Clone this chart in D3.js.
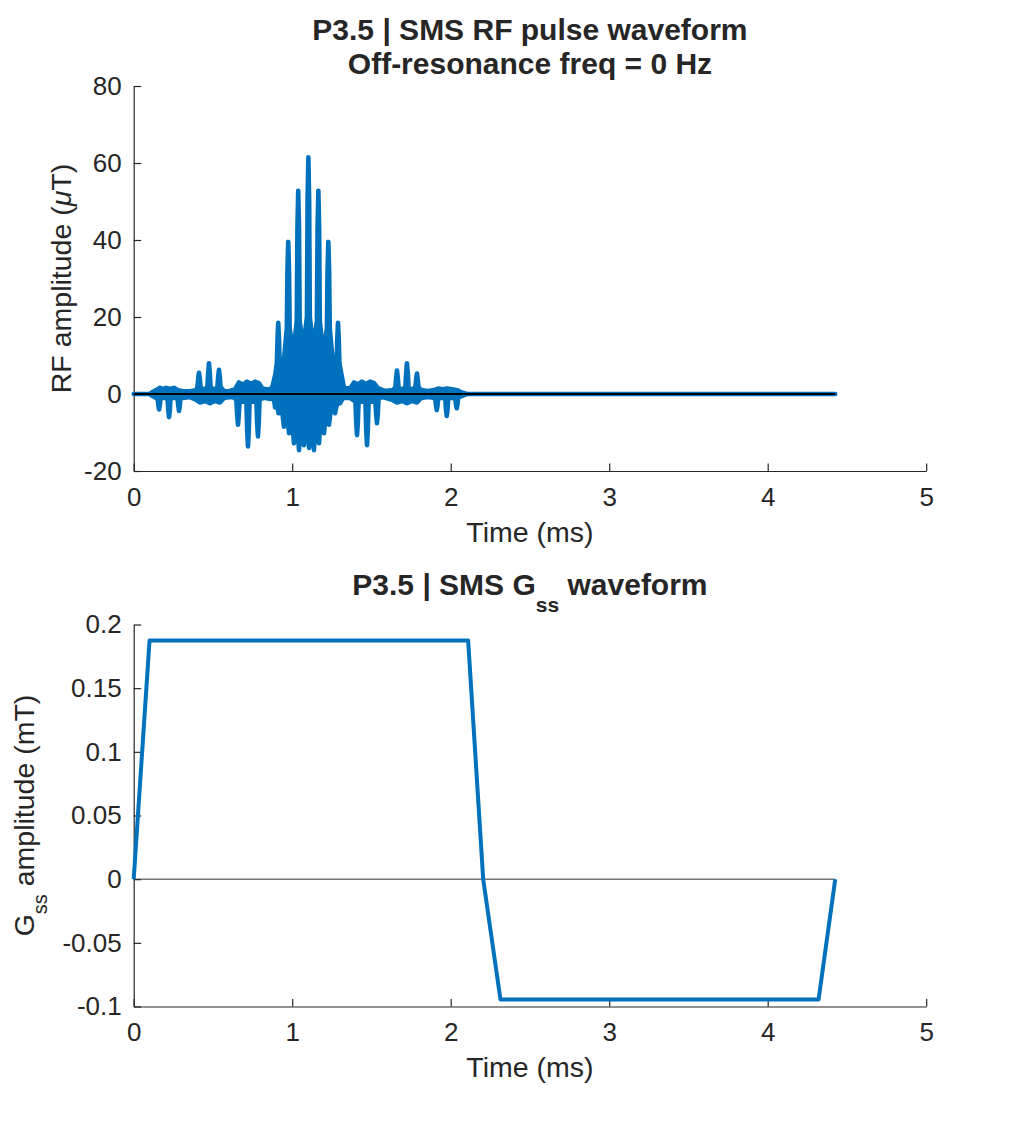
<!DOCTYPE html>
<html>
<head>
<meta charset="utf-8">
<title>P3.5 SMS RF pulse</title>
<script src="https://d3js.org/d3.v7.min.js"></script>
<style>
body{margin:0;background:#fff;}
text{font-family:"Liberation Sans",Arial,Helvetica,sans-serif;fill:#262626;}
</style>
</head>
<body>
<div id="chart"></div>
<script>
"use strict";
// tick values and their labels
var timeTicks=[0,1,2,3,4,5];
var timeTickLabels=['0','1','2','3','4','5'];
var rfTicks=[-20,0,20,40,60,80];
var rfTickLabels=['-20','0','20','40','60','80'];
var gTicks=[-0.1,-0.05,0,0.05,0.1,0.15,0.2];
var gTickLabels=['-0.1','-0.05','0','0.05','0.1','0.15','0.2'];

// RF trace, upper edge [ms, uT]
var rfUpper=[[0,0],[0.100,0],[0.122,0.6],[0.141,1.0],[0.166,1.6],[0.185,1.2],[0.204,1.6],[0.229,1.3],[0.254,1.6],[0.279,1.0],
    [0.311,0.7],[0.355,0.7],
    [0.395,1.0],[0.402,1.8],[0.407,4.0],[0.412,5.5],[0.417,4.0],[0.422,1.8],[0.440,1.0],
    [0.465,1.8],[0.470,5.5],[0.475,8.0],[0.480,5.5],[0.485,1.8],[0.510,1.0],
    [0.528,1.8],[0.533,4.5],[0.538,6.3],[0.543,4.5],[0.548,1.8],[0.570,0.8],
    [0.601,0.7],[0.639,1.2],[0.664,3.0],[0.690,2.4],[0.715,3.2],[0.740,2.6],[0.765,3.2],[0.790,2.8],[0.809,1.5],[0.841,1.2],
    [0.873,1.5],[0.893,5.0],[0.903,8.0],[0.908,15.0],[0.912,18.5],[0.916,15.0],[0.921,8.0],
    [0.944,7.0],[0.966,17.0],[0.970,32.0],[0.975,39.5],[0.980,32.0],[0.984,17.0],
    [1.007,10.5],[1.029,19.0],[1.033,43.0],[1.038,52.8],[1.043,43.0],[1.047,19.0],
    [1.070,12.0],[1.093,20.0],[1.097,50.0],[1.102,61.5],[1.107,50.0],[1.111,20.0],
    [1.133,12.0],[1.156,19.0],[1.160,43.0],[1.165,52.8],[1.170,43.0],[1.174,19.0],
    [1.196,10.5],[1.219,17.0],[1.223,32.0],[1.228,39.5],[1.233,32.0],[1.237,17.0],
    [1.259,7.0],[1.280,8.0],[1.285,15.0],[1.289,18.5],[1.293,15.0],[1.298,8.0],[1.311,5.0],[1.327,1.5],
    [1.365,1.5],[1.390,3.0],[1.415,2.5],[1.440,3.2],[1.466,2.6],[1.491,3.2],[1.516,2.8],[1.541,1.5],[1.585,0.8],
    [1.636,1.0],[1.651,1.8],[1.656,4.3],[1.661,6.1],[1.666,4.3],[1.671,1.8],[1.686,1.0],
    [1.714,1.8],[1.719,5.5],[1.724,8.0],[1.729,5.5],[1.734,1.8],[1.749,1.0],
    [1.777,1.8],[1.782,3.8],[1.787,5.3],[1.792,3.8],[1.797,1.8],[1.813,1.0],
    [1.857,0.8],[1.895,1.0],[1.920,1.4],[1.951,1.2],[1.977,1.4],[2.008,1.2],[2.040,1.0],[2.071,0.4],[2.103,0],[4.426,0]];

// RF trace, lower edge
var rfLower=[[0,0],[0.100,0],[0.122,-0.6],[0.141,-1.0],
    [0.151,-1.2],[0.155,-2.8],[0.160,-4.0],[0.165,-2.8],[0.169,-1.2],[0.190,-1.0],
    [0.214,-1.2],[0.218,-4.2],[0.223,-6.0],[0.228,-4.2],[0.232,-1.2],[0.255,-1.0],
    [0.277,-1.2],[0.281,-3.0],[0.286,-4.4],[0.291,-3.0],[0.295,-1.2],[0.310,-1.0],
    [0.355,-0.8],[0.393,-1.5],[0.418,-2.2],[0.450,-1.8],[0.481,-2.4],[0.513,-1.8],[0.544,-2.2],[0.570,-1.0],[0.608,-0.8],
    [0.639,-1.0],[0.648,-1.8],[0.653,-5.5],[0.658,-8.0],[0.663,-5.5],[0.668,-2.0],
    [0.711,-2.0],[0.716,-9.5],[0.721,-13.6],[0.726,-9.5],[0.731,-2.0],
    [0.774,-2.0],[0.779,-7.5],[0.784,-11.0],[0.789,-7.5],[0.794,-1.5],
    [0.820,-1.0],[0.866,-1.3],[0.885,-1.3],[0.892,-3.5],[0.899,-1.5],
    [0.914,-5.0],[0.930,-2.0],[0.948,-8.5],[0.964,-2.5],[0.980,-10.2],[0.994,-3.0],[1.011,-12.8],[1.026,-3.5],[1.043,-14.6],[1.057,-4.0],
    [1.074,-13.3],[1.089,-4.0],[1.106,-14.0],[1.120,-4.0],[1.137,-14.6],[1.152,-4.0],[1.169,-12.8],[1.184,-3.5],[1.201,-10.2],[1.215,-3.0],
    [1.232,-8.0],[1.248,-2.5],[1.270,-5.0],[1.286,-2.0],[1.302,-2.4],[1.321,-1.0],[1.365,-1.0],
    [1.399,-2.0],[1.404,-7.5],[1.409,-10.7],[1.414,-7.5],[1.419,-2.0],
    [1.462,-2.0],[1.467,-9.3],[1.472,-13.3],[1.477,-9.3],[1.482,-2.0],
    [1.525,-2.0],[1.530,-5.2],[1.535,-7.6],[1.540,-5.2],[1.545,-1.2],
    [1.570,-0.8],[1.630,-1.5],[1.661,-2.2],[1.693,-1.8],[1.724,-2.4],[1.756,-1.8],[1.787,-2.2],[1.813,-1.0],[1.857,-0.8],[1.888,-1.0],
    [1.903,-1.2],[1.907,-2.9],[1.912,-4.2],[1.917,-2.9],[1.921,-1.2],[1.945,-1.0],
    [1.966,-1.2],[1.970,-4.0],[1.975,-5.7],[1.980,-4.0],[1.984,-1.2],[2.008,-1.0],
    [2.029,-1.2],[2.033,-2.6],[2.038,-3.7],[2.043,-2.6],[2.047,-1.0],
    [2.065,-0.6],[2.084,-0.3],[2.103,0],[4.426,0]];

// slice select gradient [ms, mT]
var gss=[[0,0],[0.1,0.1875],[2.11,0.1875],[2.205,0],[2.314,-0.0945],[4.321,-0.0945],[4.426,0]];

// zero reference line
var zeroLine=[[0,0],[4.426,0]];

var W=1023,H=1131;
var blue='#0072BD',axisColor='#262626';
var svg=d3.select('#chart').append('svg')
    .attr('width',W).attr('height',H)
    .style('background','#fff');

var x=d3.scaleLinear().domain([0,5]).range([133.7,926.2]);
var yRF=d3.scaleLinear().domain([-20,80]).range([471,86]);
var yG=d3.scaleLinear().domain([-0.1,0.2]).range([1006.5,624.5]);

function drawAxes(y,ticks,labels){
    var gx=svg.append('g')
        .attr('transform','translate(0,'+y.range()[0]+')')
        .call(d3.axisBottom(x).tickValues(timeTicks)
            .tickFormat((d,i)=>timeTickLabels[i])
            .tickSizeInner(-7.5).tickSizeOuter(0).tickPadding(16.5));
    var gy=svg.append('g')
        .attr('transform','translate('+x.range()[0]+',0)')
        .call(d3.axisLeft(y).tickValues(ticks)
            .tickFormat((d,i)=>labels[i])
            .tickSizeInner(-7.5).tickSizeOuter(0).tickPadding(12));
    [gx,gy].forEach(g=>{
        g.select('.domain').attr('stroke',axisColor).attr('stroke-width',1.2);
        g.selectAll('.tick line').attr('stroke',axisColor).attr('stroke-width',1.2);
        g.selectAll('.tick text')
            .style('font-family','"Liberation Sans",Arial,Helvetica,sans-serif')
            .style('font-size','26px').attr('fill',axisColor);
    });
}

drawAxes(yRF,rfTicks,rfTickLabels);
drawAxes(yG,gTicks,gTickLabels);

// RF pulse: along the upper edge, back along the lower edge
var rfLine=d3.line().x(d=>x(d[0])).y(d=>yRF(d[1]));
var rfShape=rfUpper.concat(rfLower.slice().reverse());
svg.append('path')
    .attr('d',rfLine(rfShape)+'Z')
    .attr('fill',blue).attr('stroke',blue)
    .attr('stroke-width',4.6).attr('stroke-linejoin','round');
svg.append('path')
    .attr('d',rfLine(zeroLine))
    .attr('fill','none').attr('stroke','#000').attr('stroke-width',1.8);

// gradient
var gLine=d3.line().x(d=>x(d[0])).y(d=>yG(d[1]));
svg.append('path')
    .attr('d',gLine(zeroLine))
    .attr('fill','none').attr('stroke','#333').attr('stroke-width',1);
svg.append('path')
    .attr('d',gLine(gss))
    .attr('fill','none').attr('stroke',blue)
    .attr('stroke-width',4).attr('stroke-linejoin','round');

// titles
var cx=(x.range()[0]+x.range()[1])/2;
function title(y,parts){
    var t=svg.append('text').attr('x',cx).attr('y',y)
        .attr('text-anchor','middle')
        .style('font-size','30px').style('font-weight','bold').attr('fill','#000');
    parts.forEach(p=>{
        var s=t.append('tspan').text(p.t);
        if(p.dy)s.attr('dy',p.dy);
        if(p.size)s.style('font-size',p.size);
    });
    return t;
}
title(39.5,[{t:'P3.5 | SMS RF pulse waveform'}]);
title(73.5,[{t:'Off-resonance freq = 0 Hz'}]);
title(595,[{t:'P3.5 | SMS G'},{t:'ss',dy:17,size:'21px'},{t:' waveform',dy:-17}]);

// axis labels
[yRF,yG].forEach(y=>{
    svg.append('text').attr('x',cx).attr('y',y.range()[0]+70.5)
        .attr('text-anchor','middle').style('font-size','28.5px')
        .text('Time (ms)');
});
var l1=svg.append('text')
    .attr('transform','translate(71,'+((yRF.range()[0]+yRF.range()[1])/2)+') rotate(-90)')
    .attr('text-anchor','middle').style('font-size','28.5px');
l1.append('tspan').text('RF amplitude (');
l1.append('tspan').text('\u03bc').style('font-style','italic');
l1.append('tspan').text('T)');

var l2=svg.append('text')
    .attr('transform','translate(33.5,'+((yG.range()[0]+yG.range()[1])/2)+') rotate(-90)')
    .attr('text-anchor','middle').style('font-size','28.5px');
l2.append('tspan').text('G');
l2.append('tspan').text('ss').attr('dy',13).style('font-size','20px');
l2.append('tspan').text(' amplitude (mT)').attr('dy',-13);
</script>
</body>
</html>
